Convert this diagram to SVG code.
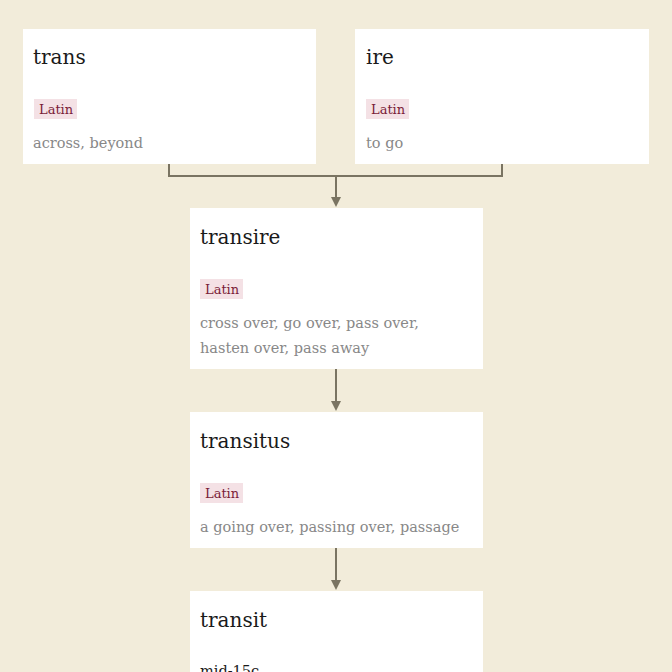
<svg xmlns="http://www.w3.org/2000/svg" width="672" height="672" viewBox="0 0 672 672">
<style>
.box{fill:#ffffff}
.t{font-family:"DejaVu Serif","Liberation Serif",serif;font-size:20px;fill:#1a1a1a}
.b{fill:#f4e1e5}
.bt{font-family:"DejaVu Serif","Liberation Serif",serif;font-size:13px;fill:#7a1c38}
.g{font-family:"DejaVu Serif","Liberation Serif",serif;font-size:14.5px;fill:#888888}
.m{font-family:"DejaVu Serif","Liberation Serif",serif;font-size:14.5px;fill:#1a1a1a}
.c{fill:none;stroke:#7a7462;stroke-width:2}
.ah{fill:#7a7462}
</style>
<rect width="672" height="672" fill="#f2ecda"/>
<g id="connectors">
<path class="c" d="M169,164 V176 H502 V164"/>
<path class="c" d="M336,176 V198"/>
<path class="ah" d="M331,197 L341,197 L336,207 Z"/>
<path class="c" d="M336,369 V402"/>
<path class="ah" d="M331,401 L341,401 L336,411 Z"/>
<path class="c" d="M336,548 V581"/>
<path class="ah" d="M331,580 L341,580 L336,590 Z"/>
</g>
<g id="trans">
<rect class="box" x="23" y="29" width="293" height="135"/>
<text class="t" x="33" y="64">trans</text>
<rect class="b" x="34" y="99" width="43" height="20"/>
<text class="bt" x="39" y="114">Latin</text>
<text class="g" x="33" y="148">across, beyond</text>
</g>
<g id="ire">
<rect class="box" x="355" y="29" width="294" height="135"/>
<text class="t" x="366" y="64">ire</text>
<rect class="b" x="366" y="99" width="43" height="20"/>
<text class="bt" x="371" y="114">Latin</text>
<text class="g" x="366" y="148">to go</text>
</g>
<g id="transire">
<rect class="box" x="190" y="208" width="293" height="161"/>
<text class="t" x="200" y="244">transire</text>
<rect class="b" x="200" y="279" width="43" height="20"/>
<text class="bt" x="205" y="294">Latin</text>
<text class="g" x="200" y="328">cross over, go over, pass over,</text>
<text class="g" x="200" y="353">hasten over, pass away</text>
</g>
<g id="transitus">
<rect class="box" x="190" y="412" width="293" height="136"/>
<text class="t" x="200" y="448">transitus</text>
<rect class="b" x="200" y="483" width="43" height="20"/>
<text class="bt" x="205" y="498">Latin</text>
<text class="g" x="200" y="532">a going over, passing over, passage</text>
</g>
<g id="transit">
<rect class="box" x="190" y="591" width="293" height="90"/>
<text class="t" x="200" y="627">transit</text>
<text class="m" x="200" y="676">mid-15c.</text>
</g>
</svg>
